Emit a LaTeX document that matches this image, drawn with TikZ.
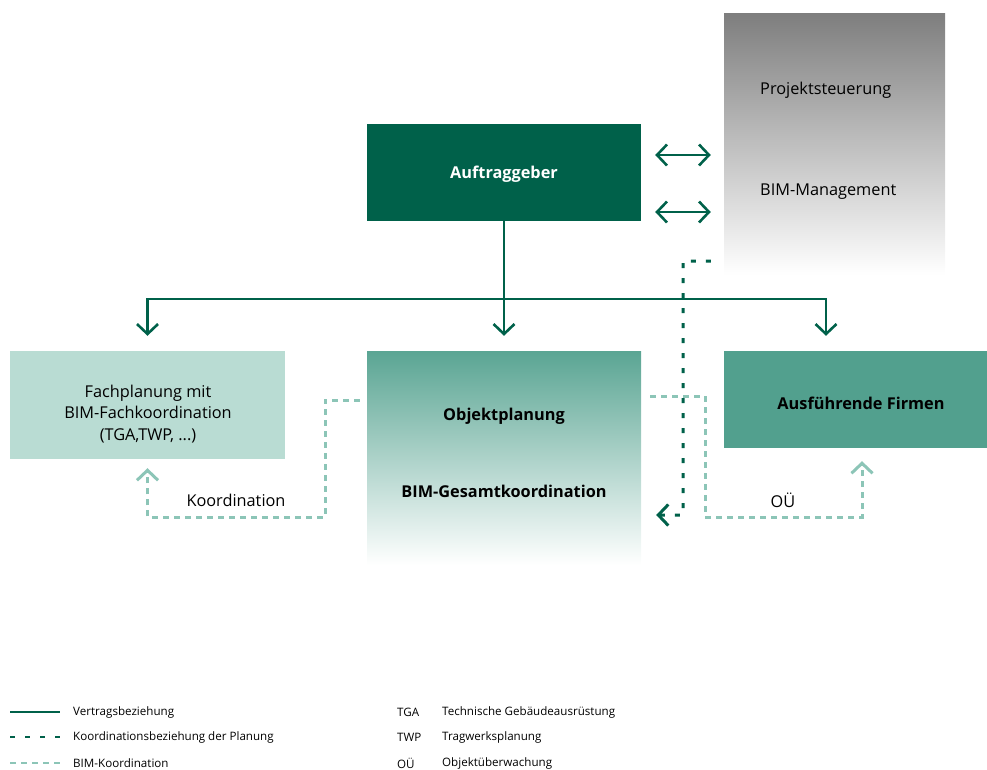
\documentclass[tikz,border=0pt]{standalone}
\usepackage{fontspec}
\setmainfont{Open Sans}
\usetikzlibrary{calc,positioning,arrows.meta}
\definecolor{colorag}{HTML}{00614A}
\definecolor{colorob}{HTML}{5AA593}
\definecolor{colorfp}{HTML}{B9DCD3}
\definecolor{coloraf}{HTML}{52A08E}
\definecolor{colorps}{HTML}{7E7E7E}
\definecolor{colorbim}{HTML}{8CC5B7}
\tikzset{
  box/.style={inner sep=0pt, align=center, font=\fontsize{16.3}{20}\selectfont},
  boxtext/.style={inner sep=0pt, font=\fontsize{16.3}{20}\selectfont},
  legtext/.style={inner sep=0pt, anchor=west, font=\fontsize{11.6}{13}\selectfont},
  tip/.style={-{Straight Barb[length=10pt,width=21pt]}},
  edgevt/.style={colorag, line width=2.6pt},
  edgeko/.style={colorag, line width=3pt, dash pattern=on 5pt off 10pt},
  edgebim/.style={colorbim, line width=3pt, dash pattern=on 6pt off 5pt}
}
\begin{document}
\begin{tikzpicture}[x=1pt, y=-1pt]
\useasboundingbox (0,0) rectangle (987,769);
% boxes
\node[box, fill=colorag, minimum width=274pt, minimum height=97pt] (ag) at (504,172.5) {};
\node[boxtext, text=white, font=\fontsize{16.3}{20}\selectfont\bfseries] (ag1) at (504,174) {Auftraggeber};
\node[box, top color=colorps, bottom color=white, minimum width=221pt, minimum height=262pt] (ps) at (834.5,144) {};
\node[boxtext, anchor=west] (ps1) at (760,90) {Projektsteuerung};
\node[boxtext, anchor=west] (ps2) at (760,192) {BIM-Management};
\node[box, fill=colorfp, minimum width=275pt, minimum height=108pt] (fp) at (147.5,405) {};
\node[box, font=\fontsize{16.3}{21.5}\selectfont] (fp1) at (148,414) {Fachplanung mit\\BIM-Fachkoordination\\(TGA,TWP, ...)};
\node[box, top color=colorob, bottom color=white, minimum width=274pt, minimum height=214pt] (ob) at (504,458) {};
\node[boxtext, font=\fontsize{16.3}{20}\selectfont\bfseries] (ob1) at (504,416) {Objektplanung};
\node[boxtext, font=\fontsize{16.3}{20}\selectfont\bfseries] (ob2) at (504,491) {BIM-Gesamtkoordination};
\node[box, fill=coloraf, minimum width=263pt, minimum height=97pt] (af) at (855.5,399.5) {};
\node[boxtext, font=\fontsize{16.3}{20}\selectfont\bfseries] (af1) at (861,403) {Ausführende Firmen};
% Vertragsbeziehung
\coordinate (v) at (504,299);
\draw[edgevt] (ag.south) -- (v);
\draw[edgevt, tip, shorten >=15pt] (v) -| (fp.north);
\draw[edgevt, tip, shorten >=15pt] (ag.south) -- (ob.north);
\draw[edgevt, tip, shorten >=15pt] (v) -| ([xshift=-29.5pt]af.north);
\draw[edgevt, {Straight Barb[length=10pt,width=21pt]}-{Straight Barb[length=10pt,width=21pt]}, shorten <=14pt, shorten >=13pt] ([yshift=17.5pt]ag.east) -- ([yshift=17.5pt]ag.east -| ps.west);
\draw[edgevt, {Straight Barb[length=10pt,width=21pt]}-{Straight Barb[length=10pt,width=21pt]}, shorten <=14pt, shorten >=13pt] ([yshift=-39.5pt]ag.east) -- ([yshift=-39.5pt]ag.east -| ps.west);
% Koordination der Planung
\coordinate (k) at ($(ps.south west)+(-13,-14)$);
\draw[edgeko, tip, shorten >=15pt] (k) -- (683,261) -- (683,515) -- (ob.east |- 0,515);
% BIM-Koordination
\draw[edgebim, tip, shorten >=9pt] ($(ob.west)+(-7,-58)$) -| (325,517) -| (fp.south);
\draw[edgebim, tip, shorten >=13pt] ($(ob.east)+(9,-62)$) -| (705,517) -| ([xshift=6.5pt]af.south);
\node[boxtext] (lk) at (236,500) {Koordination};
\node[boxtext] (lo) at (783,500) {OÜ};
% Legende
\node[legtext] (l1) at (73,712) {Vertragsbeziehung};
\node[legtext] (l2) at (73,737) {Koordinationsbeziehung der Planung};
\node[legtext] (l3) at (73,763) {BIM-Koordination};
\draw[edgevt] (l1.west -| 10,0) -- ([xshift=-13pt]l1.west);
\draw[edgeko, line width=2.6pt] (l2.west -| 10,0) -- ([xshift=-13pt]l2.west);
\draw[edgebim, line width=2.6pt] (l3.west -| 10,0) -- ([xshift=-13pt]l3.west);
\node[legtext] (a1) at (397,712) {TGA};
\node[legtext] (a2) at (397,737) {TWP};
\node[legtext] (a3) at (397,763) {OÜ};
\node[legtext] (t1) at (442,712) {Technische Gebäudeausrüstung};
\node[legtext] (t2) at (442,737) {Tragwerksplanung};
\node[legtext] (t3) at (442,763) {Objektüberwachung};
\end{tikzpicture}
\end{document}
